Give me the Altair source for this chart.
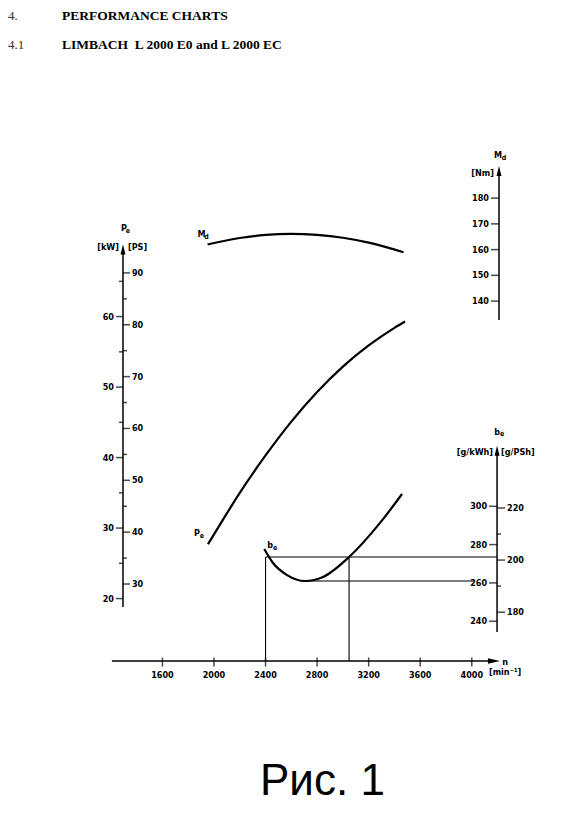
import altair as alt
import pandas as pd

# ---------------- values ----------------
md_rpm = [1950, 2200, 2400, 2600, 2800, 3000, 3200, 3470]
md_nm = [162.0, 164.5, 165.7, 166.1, 165.7, 164.6, 162.7, 159.0]

pe_rpm = [1953, 2000, 2200, 2400, 2600, 2800, 3000, 3200, 3400, 3482]
pe_kw = [27.7, 29.1, 35.0, 40.3, 45.1, 49.3, 52.9, 55.9, 58.4, 59.3]

be_rpm = [2390, 2458, 2567, 2706, 2846, 3048, 3288, 3459]
be_gkwh = [277.7, 270.4, 264.1, 261.0, 263.1, 273.5, 291.3, 306.4]

rpm_ticks = [1600, 2000, 2400, 2800, 3200, 3600, 4000]
kw_major = [20, 30, 40, 50, 60]
kw_minor = [25, 35, 45, 55, 65]
ps_major = [30, 40, 50, 60, 70, 80, 90]
ps_minor = [35, 45, 55, 65, 75, 85]
nm_ticks = [140, 150, 160, 170, 180]
gkwh_ticks = [240, 260, 280, 300]
gpsh_major = [180, 200, 220]
gpsh_minor = [190, 210]

# reading lines on the b_e curve
read_level_upper = 273.5
read_level_lower = 261.0
read_rpm = [2400, 3048]
read_lower_from = 2706
read_lower_to = 4025

# ---------------- scales / layout constants ----------------
W, H = 545, 797
X_DOM = [402, 4630]
KW_DOM = [-9.28, 103.77]
PS_PER_KW = 1 / 0.73549875
PS_DOM = [KW_DOM[0] * PS_PER_KW, KW_DOM[1] * PS_PER_KW]
NM_DOM = [-55.69, 253.83]
GKWH_DOM = [144.13, 559.96]
GPSH_DOM = [GKWH_DOM[0] * 0.73549875, GKWH_DOM[1] * 0.73549875]

LEFT_AX = 1294
MD_AX = 4211
BE_AX = 4196
XAX_FROM, XAX_TO = 1208, 4172
XAX_Y = 653  # pixel row of the rpm axis line

FONT = "Liberation Sans Narrow, DejaVu Sans Condensed, sans-serif"
LAB = dict(font=FONT, fontSize=9, fontWeight="bold", color="black")
ARROW_UP = "M0,-1L0.5,1L-0.5,1Z"
ARROW_RIGHT = "M1,0L-1,0.45L-1,-0.45Z"


def X(f="rpm"):
    return alt.X(f, type="quantitative",
                 scale=alt.Scale(domain=X_DOM, nice=False, zero=False), axis=None)


def Y(f, dom):
    return alt.Y(f, type="quantitative",
                 scale=alt.Scale(domain=dom, nice=False, zero=False), axis=None)


def df(**cols):
    return pd.DataFrame(cols)


layers = []

# ---------- rpm axis ----------
layers.append(alt.Chart(df(a=[XAX_FROM], b=[XAX_TO])).mark_rule(
    color="black", strokeWidth=1.5).encode(x=X("a"), x2="b", y=alt.value(XAX_Y)))
layers.append(alt.Chart(df(rpm=[XAX_TO])).mark_point(
    shape=ARROW_RIGHT, filled=True, size=144, color="black", opacity=1, strokeWidth=0
).encode(x=X(), y=alt.value(XAX_Y)))
layers.append(alt.Chart(df(rpm=rpm_ticks)).mark_tick(
    orient="vertical", size=9, thickness=1.5, color="black", yOffset=1
).encode(x=X(), y=alt.value(XAX_Y)))
layers.append(alt.Chart(df(rpm=rpm_ticks, lab=[str(v) for v in rpm_ticks])).mark_text(
    baseline="middle", **LAB).encode(x=X(), y=alt.value(XAX_Y + 14), text="lab:N"))
layers.append(alt.Chart(df(rpm=[4258], lab=["n"])).mark_text(
    baseline="middle", **LAB).encode(x=X(), y=alt.value(XAX_Y + 1), text="lab:N"))
layers.append(alt.Chart(df(rpm=[4258], lab=["[min\u207b\u00b9]"])).mark_text(
    baseline="middle", **LAB).encode(x=X(), y=alt.value(XAX_Y + 11), text="lab:N"))

# ---------- left P_e axis (kW / PS) ----------
layers.append(alt.Chart(df(rpm=[LEFT_AX], lo=[18.8], hi=[69.5])).mark_rule(
    color="black", strokeWidth=1.5).encode(x=X(), y=Y("lo", KW_DOM), y2="hi"))
layers.append(alt.Chart(df(rpm=[LEFT_AX], hi=[69.5])).mark_point(
    shape=ARROW_UP, filled=True, size=100, color="black", opacity=1, strokeWidth=0
).encode(x=X(), y=Y("hi", KW_DOM)))
layers.append(alt.Chart(df(rpm=[LEFT_AX] * len(kw_major), v=kw_major)).mark_tick(
    orient="horizontal", size=7, thickness=1.5, color="black", xOffset=-3.5
).encode(x=X(), y=Y("v", KW_DOM)))
layers.append(alt.Chart(df(rpm=[LEFT_AX] * len(kw_minor), v=kw_minor)).mark_tick(
    orient="horizontal", size=4, thickness=1.5, color="black", xOffset=-2
).encode(x=X(), y=Y("v", KW_DOM)))
layers.append(alt.Chart(df(rpm=[LEFT_AX] * len(kw_major), v=kw_major,
                           lab=[str(v) for v in kw_major])).mark_text(
    align="right", baseline="middle", dx=-9, **LAB
).encode(x=X(), y=Y("v", KW_DOM), text="lab:N"))
layers.append(alt.Chart(df(rpm=[LEFT_AX] * len(ps_major), v=ps_major)).mark_tick(
    orient="horizontal", size=7, thickness=1.5, color="black", xOffset=3.5
).encode(x=X(), y=Y("v", PS_DOM)))
layers.append(alt.Chart(df(rpm=[LEFT_AX] * len(ps_minor), v=ps_minor)).mark_tick(
    orient="horizontal", size=4, thickness=1.5, color="black", xOffset=2
).encode(x=X(), y=Y("v", PS_DOM)))
layers.append(alt.Chart(df(rpm=[LEFT_AX] * len(ps_major), v=ps_major,
                           lab=[str(v) for v in ps_major])).mark_text(
    align="left", baseline="middle", dx=9, **LAB
).encode(x=X(), y=Y("v", PS_DOM), text="lab:N"))
layers.append(alt.Chart(df(rpm=[LEFT_AX], v=[69.9], lab=["[kW]"])).mark_text(
    align="right", baseline="middle", dx=-4, **LAB
).encode(x=X(), y=Y("v", KW_DOM), text="lab:N"))
layers.append(alt.Chart(df(rpm=[LEFT_AX], v=[69.9], lab=["[PS]"])).mark_text(
    align="left", baseline="middle", dx=5, **LAB
).encode(x=X(), y=Y("v", KW_DOM), text="lab:N"))
layers.append(alt.Chart(df(rpm=[LEFT_AX], v=[72.6], lab=["P"])).mark_text(
    align="center", baseline="middle", dx=1, **LAB
).encode(x=X(), y=Y("v", KW_DOM), text="lab:N"))
layers.append(alt.Chart(df(rpm=[LEFT_AX], v=[72.6], lab=["e"])).mark_text(
    align="center", baseline="middle", dx=5, dy=3, font=FONT, fontSize=7, fontWeight="bold"
).encode(x=X(), y=Y("v", KW_DOM), text="lab:N"))

# ---------- right M_d axis (Nm) ----------
layers.append(alt.Chart(df(rpm=[MD_AX], lo=[132.7], hi=[190.5])).mark_rule(
    color="black", strokeWidth=1.5).encode(x=X(), y=Y("lo", NM_DOM), y2="hi"))
layers.append(alt.Chart(df(rpm=[MD_AX], hi=[190.5])).mark_point(
    shape=ARROW_UP, filled=True, size=100, color="black", opacity=1, strokeWidth=0
).encode(x=X(), y=Y("hi", NM_DOM)))
layers.append(alt.Chart(df(rpm=[MD_AX] * len(nm_ticks), v=nm_ticks)).mark_tick(
    orient="horizontal", size=8, thickness=1.5, color="black", xOffset=-4
).encode(x=X(), y=Y("v", NM_DOM)))
layers.append(alt.Chart(df(rpm=[MD_AX] * len(nm_ticks), v=nm_ticks,
                           lab=[str(v) for v in nm_ticks])).mark_text(
    align="right", baseline="middle", dx=-10, **LAB
).encode(x=X(), y=Y("v", NM_DOM), text="lab:N"))
layers.append(alt.Chart(df(rpm=[MD_AX], v=[189.7], lab=["[Nm]"])).mark_text(
    align="right", baseline="middle", dx=-5, **LAB
).encode(x=X(), y=Y("v", NM_DOM), text="lab:N"))
layers.append(alt.Chart(df(rpm=[MD_AX], v=[196.7], lab=["M"])).mark_text(
    align="center", baseline="middle", dx=-1, **LAB
).encode(x=X(), y=Y("v", NM_DOM), text="lab:N"))
layers.append(alt.Chart(df(rpm=[MD_AX], v=[196.7], lab=["d"])).mark_text(
    align="center", baseline="middle", dx=5, dy=3, font=FONT, fontSize=7, fontWeight="bold"
).encode(x=X(), y=Y("v", NM_DOM), text="lab:N"))

# ---------- right b_e axis (g/kWh / g/PSh) ----------
layers.append(alt.Chart(df(rpm=[BE_AX], lo=[234.4], hi=[329.0])).mark_rule(
    color="black", strokeWidth=1.5).encode(x=X(), y=Y("lo", GKWH_DOM), y2="hi"))
layers.append(alt.Chart(df(rpm=[BE_AX], hi=[329.0])).mark_point(
    shape=ARROW_UP, filled=True, size=100, color="black", opacity=1, strokeWidth=0
).encode(x=X(), y=Y("hi", GKWH_DOM)))
layers.append(alt.Chart(df(rpm=[BE_AX] * len(gkwh_ticks), v=gkwh_ticks)).mark_tick(
    orient="horizontal", size=8, thickness=1.5, color="black", xOffset=-4
).encode(x=X(), y=Y("v", GKWH_DOM)))
layers.append(alt.Chart(df(rpm=[BE_AX] * len(gkwh_ticks), v=gkwh_ticks,
                           lab=[str(v) for v in gkwh_ticks])).mark_text(
    align="right", baseline="middle", dx=-10, **LAB
).encode(x=X(), y=Y("v", GKWH_DOM), text="lab:N"))
layers.append(alt.Chart(df(rpm=[BE_AX] * len(gpsh_major), v=gpsh_major)).mark_tick(
    orient="horizontal", size=8, thickness=1.5, color="black", xOffset=4
).encode(x=X(), y=Y("v", GPSH_DOM)))
layers.append(alt.Chart(df(rpm=[BE_AX] * len(gpsh_minor), v=gpsh_minor)).mark_tick(
    orient="horizontal", size=4, thickness=1.5, color="black", xOffset=2
).encode(x=X(), y=Y("v", GPSH_DOM)))
layers.append(alt.Chart(df(rpm=[BE_AX] * len(gpsh_major), v=gpsh_major,
                           lab=[str(v) for v in gpsh_major])).mark_text(
    align="left", baseline="middle", dx=10, **LAB
).encode(x=X(), y=Y("v", GPSH_DOM), text="lab:N"))
layers.append(alt.Chart(df(rpm=[BE_AX], v=[328.3], lab=["[g/kWh]"])).mark_text(
    align="right", baseline="middle", dx=-4, **LAB
).encode(x=X(), y=Y("v", GKWH_DOM), text="lab:N"))
layers.append(alt.Chart(df(rpm=[BE_AX], v=[328.3], lab=["[g/PSh]"])).mark_text(
    align="left", baseline="middle", dx=4, **LAB
).encode(x=X(), y=Y("v", GKWH_DOM), text="lab:N"))
layers.append(alt.Chart(df(rpm=[BE_AX], v=[338.6], lab=["b"])).mark_text(
    align="center", baseline="middle", dx=0, **LAB
).encode(x=X(), y=Y("v", GKWH_DOM), text="lab:N"))
layers.append(alt.Chart(df(rpm=[BE_AX], v=[338.6], lab=["e"])).mark_text(
    align="center", baseline="middle", dx=5, dy=2, font=FONT, fontSize=7, fontWeight="bold"
).encode(x=X(), y=Y("v", GKWH_DOM), text="lab:N"))

# ---------- reading lines ----------
layers.append(alt.Chart(df(rpm=[read_rpm[0]], r2=[BE_AX], v=[read_level_upper])).mark_rule(
    color="black", strokeWidth=1.1).encode(x=X(), x2="r2", y=Y("v", GKWH_DOM)))
layers.append(alt.Chart(df(rpm=[read_lower_from], r2=[read_lower_to], v=[read_level_lower])).mark_rule(
    color="black", strokeWidth=1.1).encode(x=X(), x2="r2", y=Y("v", GKWH_DOM)))
layers.append(alt.Chart(df(rpm=read_rpm, v=[read_level_upper] * 2)).mark_rule(
    color="black", strokeWidth=1.1).encode(x=X(), y=Y("v", GKWH_DOM), y2=alt.value(XAX_Y)))

# ---------- curves ----------
layers.append(alt.Chart(df(rpm=md_rpm, v=md_nm)).mark_line(
    color="black", strokeWidth=2.2, interpolate="monotone").encode(x=X(), y=Y("v", NM_DOM)))
layers.append(alt.Chart(df(rpm=pe_rpm, v=pe_kw)).mark_line(
    color="black", strokeWidth=2.2, interpolate="monotone").encode(x=X(), y=Y("v", KW_DOM)))
layers.append(alt.Chart(df(rpm=be_rpm, v=be_gkwh)).mark_line(
    color="black", strokeWidth=2.2, interpolate="monotone").encode(x=X(), y=Y("v", GKWH_DOM)))

# curve names next to their first points
def curve_label(rpm, v, dom, main, sub, dx, dy):
    d = df(rpm=[rpm], v=[v], a=[main], b=[sub])
    return [
        alt.Chart(d).mark_text(align="center", baseline="middle", dx=dx, dy=dy, **LAB)
        .encode(x=X(), y=Y("v", dom), text="a:N"),
        alt.Chart(d).mark_text(align="center", baseline="middle", dx=dx + 5, dy=dy + 3,
                               font=FONT, fontSize=7, fontWeight="bold")
        .encode(x=X(), y=Y("v", dom), text="b:N"),
    ]

layers += curve_label(md_rpm[0], md_nm[0], NM_DOM, "M", "d", -6, -10)
layers += curve_label(pe_rpm[0], pe_kw[0], KW_DOM, "P", "e", -11, -11)
layers += curve_label(be_rpm[0], be_gkwh[0], GKWH_DOM, "b", "e", 6, -4)

# ---------- document texts ----------
one = df(k=[0])
SERIF = "Liberation Serif, Times New Roman, serif"
layers.append(alt.Chart(one).mark_text(align="left", baseline="alphabetic", font=SERIF,
                                       fontSize=13, color="#333").encode(
    x=alt.value(0), y=alt.value(12), text=alt.value("4.")))
layers.append(alt.Chart(one).mark_text(align="left", baseline="alphabetic", font=SERIF,
                                       fontSize=13.5, fontWeight="bold", color="black").encode(
    x=alt.value(54), y=alt.value(12), text=alt.value("PERFORMANCE CHARTS")))
layers.append(alt.Chart(one).mark_text(align="left", baseline="alphabetic", font=SERIF,
                                       fontSize=13, color="#333").encode(
    x=alt.value(0), y=alt.value(41), text=alt.value("4.1")))
layers.append(alt.Chart(one).mark_text(align="left", baseline="alphabetic", font=SERIF,
                                       fontSize=13.5, fontWeight="bold", color="black").encode(
    x=alt.value(54), y=alt.value(41), text=alt.value("LIMBACH\u00a0 L 2000 E0 and L 2000 EC")))
layers.append(alt.Chart(one).mark_text(align="left", baseline="alphabetic",
                                       font="Liberation Sans, Arial, sans-serif",
                                       fontSize=44, color="black").encode(
    x=alt.value(252), y=alt.value(787), text=alt.value("Рис. 1")))

chart = alt.layer(*layers).resolve_scale(y="independent").properties(
    width=W, height=H, padding=0, autosize=alt.AutoSizeParams(type="none"),
    background="white"
).configure_view(stroke=None)

chart.save("out.html", embed_options={"renderer": "svg", "actions": False})
